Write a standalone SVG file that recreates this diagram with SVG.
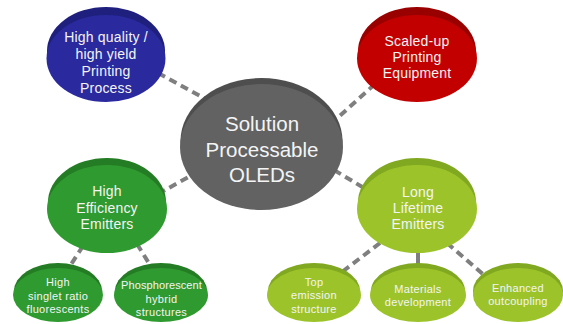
<svg xmlns="http://www.w3.org/2000/svg" width="563" height="324" viewBox="0 0 563 324">
<style>
text{font-family:"Liberation Sans",Arial,sans-serif;fill:#f4f4f4;text-anchor:middle}
.big{font-size:14px;letter-spacing:0.2px}
.ctr{font-size:20.5px}
.sm{font-size:11px;letter-spacing:0.3px}
.conn line{stroke:#7f7f7f;stroke-width:4;stroke-dasharray:8 5;fill:none}
.blue .b{fill:#1f1f7e}.blue .f{fill:#2a2a9e}
.red .b{fill:#990000}.red .f{fill:#c20000}
.gray .b{fill:#4e4e4e}.gray .f{fill:#626262}
.green .b{fill:#247c24}.green .f{fill:#2f9a2f}
.lime .b{fill:#80a820}.lime .f{fill:#9cc42a}
</style>
<rect width="563" height="324" fill="#ffffff"/>
<g id="connectors" class="conn">
<line x1="158" y1="73" x2="215" y2="104"/>
<line x1="375" y1="84" x2="333" y2="122"/>
<line x1="158" y1="194" x2="192" y2="175"/>
<line x1="334" y1="170" x2="364" y2="188"/>
<line x1="83" y1="246" x2="70" y2="266"/>
<line x1="137" y1="244" x2="150" y2="265"/>
<line x1="380" y1="243" x2="342" y2="272"/>
<line x1="418" y1="250" x2="418" y2="266" style="stroke-dasharray:none"/>
<line x1="447" y1="243" x2="485" y2="276"/>
</g>
<g id="center" class="gray">
<ellipse class="b" cx="261.5" cy="141" rx="81" ry="63"/>
<ellipse class="f" cx="261.5" cy="147" rx="81.5" ry="63"/>
<text class="ctr" x="262" y="131">Solution</text>
<text class="ctr" x="262" y="157">Processable</text>
<text class="ctr" x="262" y="182">OLEDs</text>
</g>
<g id="printing-process" class="blue">
<ellipse class="b" cx="106" cy="51" rx="59" ry="44"/>
<ellipse class="f" cx="106" cy="58.5" rx="59.5" ry="43.5"/>
<text class="big" x="106" y="42">High quality /</text>
<text class="big" x="106" y="59">high yield</text>
<text class="big" x="106" y="76">Printing</text>
<text class="big" x="106" y="93">Process</text>
</g>
<g id="printing-equipment" class="red">
<ellipse class="b" cx="417" cy="51" rx="59" ry="44"/>
<ellipse class="f" cx="417" cy="58.5" rx="60" ry="43.5"/>
<text class="big" x="417" y="46">Scaled-up</text>
<text class="big" x="417" y="62">Printing</text>
<text class="big" x="417" y="78">Equipment</text>
</g>
<g id="high-efficiency" class="green">
<ellipse class="b" cx="107" cy="202" rx="59" ry="44"/>
<ellipse class="f" cx="107" cy="209" rx="60" ry="44"/>
<text class="big" x="107" y="196">High</text>
<text class="big" x="107" y="213">Efficiency</text>
<text class="big" x="107" y="229">Emitters</text>
</g>
<g id="long-lifetime" class="lime">
<ellipse class="b" cx="417" cy="202" rx="59" ry="44"/>
<ellipse class="f" cx="417" cy="209" rx="60" ry="44"/>
<text class="big" x="418" y="197">Long</text>
<text class="big" x="418" y="213">Lifetime</text>
<text class="big" x="418" y="229">Emitters</text>
</g>
<g id="singlet" class="green">
<ellipse class="b" cx="58" cy="291" rx="44" ry="28"/>
<ellipse class="f" cx="58" cy="295" rx="45" ry="27"/>
<text class="sm" x="58" y="286">High</text>
<text class="sm" x="58" y="300">singlet ratio</text>
<text class="sm" x="58" y="313">fluorescents</text>
</g>
<g id="phosphorescent" class="green">
<ellipse class="b" cx="161" cy="291" rx="46" ry="28"/>
<ellipse class="f" cx="161" cy="295" rx="47" ry="27"/>
<text class="sm" x="161.5" y="289" style="letter-spacing:0.1px">Phosphorescent</text>
<text class="sm" x="161.5" y="303">hybrid</text>
<text class="sm" x="161.5" y="316">structures</text>
</g>
<g id="top-emission" class="lime">
<ellipse class="b" cx="314" cy="291" rx="46" ry="28"/>
<ellipse class="f" cx="314" cy="295" rx="47" ry="27"/>
<text class="sm" x="314" y="286">Top</text>
<text class="sm" x="314" y="299">emission</text>
<text class="sm" x="314" y="313">structure</text>
</g>
<g id="materials" class="lime">
<ellipse class="b" cx="418" cy="291" rx="47" ry="28"/>
<ellipse class="f" cx="418" cy="295" rx="48" ry="27"/>
<text class="sm" x="418" y="293">Materials</text>
<text class="sm" x="418" y="306">development</text>
</g>
<g id="outcoupling" class="lime">
<ellipse class="b" cx="518" cy="291" rx="45" ry="28"/>
<ellipse class="f" cx="518" cy="295" rx="45" ry="27"/>
<text class="sm" x="518" y="292">Enhanced</text>
<text class="sm" x="518" y="305">outcoupling</text>
</g>
</svg>
